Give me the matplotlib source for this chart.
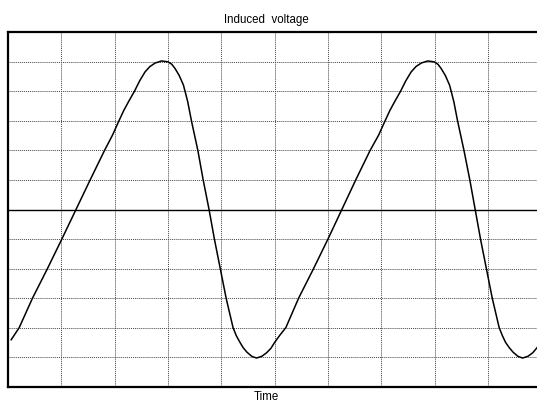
import numpy as np
import matplotlib
matplotlib.use("Agg")
import matplotlib.pyplot as plt

plt.rcParams['font.family'] = ['Liberation Sans', 'DejaVu Sans']

# time in grid divisions, voltage in grid divisions
tijd = [0.06, 0.21, 0.46, 0.74, 1.01, 1.275, 1.54, 1.81, 1.96, 2.08, 2.17, 2.26,
        2.37, 2.47, 2.57, 2.66, 2.76, 2.88, 3.0, 3.07, 3.13, 3.21, 3.29, 3.37,
        3.44, 3.56, 3.66, 3.77, 3.87, 3.98, 4.09, 4.22, 4.28, 4.35, 4.41, 4.48,
        4.57, 4.66, 4.76, 4.85, 4.93, 5.0, 5.1, 5.21, 5.45, 5.73, 6.0, 6.26,
        6.52, 6.79, 6.95, 7.07, 7.16, 7.25, 7.36, 7.46, 7.56, 7.65, 7.75, 7.87,
        7.99, 8.06, 8.12, 8.2, 8.28, 8.36, 8.43, 8.55, 8.66, 8.76, 8.86, 8.97,
        9.08, 9.21, 9.27, 9.33, 9.4, 9.47, 9.56, 9.65, 9.75, 9.84, 9.92]
napon = [-4.41, -4.0, -3.0, -2.0, -1.0, 0.0, 1.0, 2.0, 2.52, 3.0, 3.35, 3.65,
         4.0, 4.36, 4.66, 4.84, 4.96, 5.03, 5.0, 4.92, 4.78, 4.54, 4.21, 3.65,
         3.0, 2.0, 1.0, 0.0, -1.0, -2.0, -3.0, -4.0, -4.27, -4.5, -4.68, -4.83,
         -4.97, -5.03, -4.97, -4.85, -4.7, -4.5, -4.25, -4.0, -3.0, -2.0, -1.0, 0.0,
         1.0, 2.0, 2.52, 3.0, 3.35, 3.65, 4.0, 4.36, 4.66, 4.84, 4.96, 5.03,
         5.0, 4.92, 4.78, 4.54, 4.21, 3.65, 3.0, 2.0, 1.0, 0.0, -1.0, -2.0,
         -3.0, -4.0, -4.27, -4.5, -4.68, -4.83, -4.97, -5.03, -4.97, -4.85, -4.68]

fig = plt.figure(figsize=(5.37, 4.03), dpi=100)
ax = fig.add_axes([8/537, 16.3/403, 529/537, 354.4/403])
ax.set_xlim(0, 529/53.33)
ax.set_ylim(-6, 6)

ax.set_xticks(np.arange(1, 10))
ax.set_yticks(np.arange(-5, 6))
ax.tick_params(length=0, labelbottom=False, labelleft=False)
ax.grid(True, color='#444444', linestyle=(0, (1, 1)), linewidth=0.7)
ax.axhline(0, color='black', linewidth=1.0)

for s in ['left', 'top', 'bottom']:
    ax.spines[s].set_linewidth(1.6)
ax.spines['right'].set_visible(False)

ax.plot(tijd, napon, color='black', linewidth=1.1)

fig.text(266/537, 1 - 20/403, "Induced  voltage", ha='center', va='center', fontsize=8.3)
fig.text(266/537, 1 - 397/403, "Time", ha='center', va='center', fontsize=8.3)

fig.savefig("out.png", dpi=100)
